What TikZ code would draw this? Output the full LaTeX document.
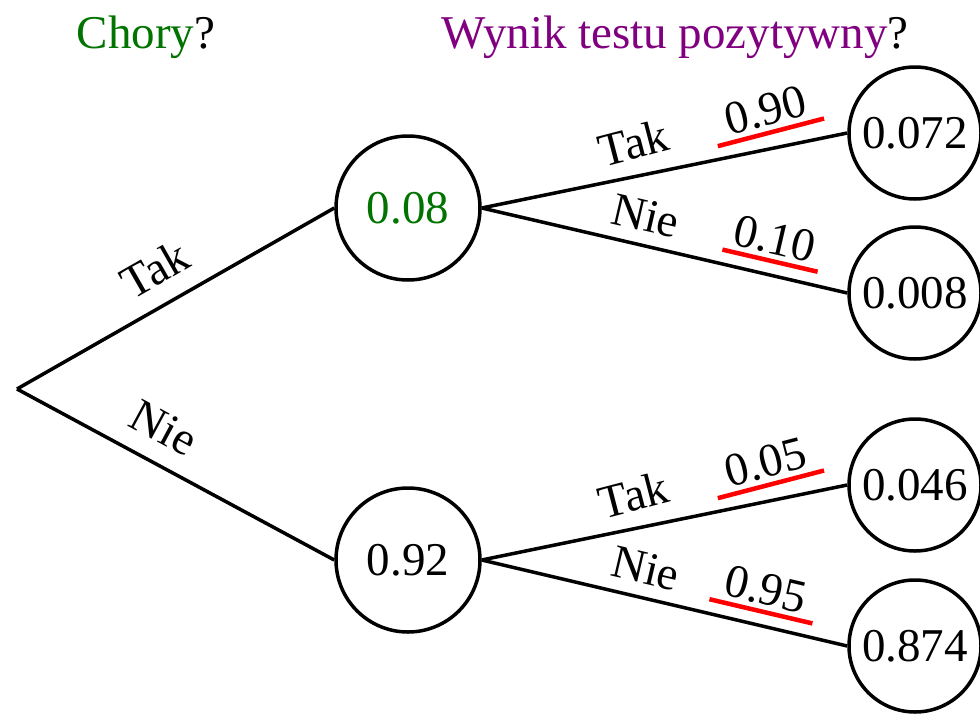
\documentclass[tikz,border=0pt]{standalone}
\usepackage{fontspec}
\setmainfont{Liberation Serif}
\definecolor{sickgreen}{RGB}{0,115,0}
\definecolor{testpurple}{RGB}{128,0,128}
\begin{document}
\begin{tikzpicture}[x=1pt,y=-1pt,
  every node/.style={font=\fontsize{47}{56}\selectfont},
  edge/.style={line width=3.5pt},
  midnode/.style={circle,draw,line width=3.5pt,minimum size=144pt,inner sep=0pt},
  leafnode/.style={circle,draw,line width=3.5pt,minimum size=132pt,inner sep=0pt},
  answer/.style={sloped,inner sep=0pt},
  prob/.style={sloped,inner ysep=5pt},
  uline/.style={red,line width=4.5pt}]
\useasboundingbox (0,0) rectangle (980,723);

% column headings
\node[anchor=base] (h1) at (146,48) {\textcolor{sickgreen}{Chory}?};
\node[anchor=base] (h2) at (675,48) {\textcolor{testpurple}{Wynik testu pozytywny}?};

% tree nodes
\coordinate (root) at (17,389);
\node[midnode,text=sickgreen] (m1) at (408,208) {0.08};
\node[midnode] (m2) at (408,560) {0.92};
\node[leafnode] (l1) at (915,133) {0.072};
\node[leafnode] (l2) at (915,293) {0.008};
\node[leafnode] (l3) at (915,485) {0.046};
\node[leafnode] (l4) at (915,646) {0.874};

% first level
\draw[edge] (root) -- node[answer,pos=0.49,above=18pt] (a1) {Tak} (m1.west);
\draw[edge] (root) -- node[answer,pos=0.41,above=18pt] (a2) {Nie} (m2.west);

% second level
\draw[edge] (m1.east) -- node[answer,pos=0.435,above=15pt,rotate=3] (b1) {Tak}
                         node[prob,pos=0.80,above=16pt,rotate=3,inner xsep=12pt] (p1) {0.90} (l1.west);
\draw[edge] (m1.east) -- node[answer,pos=0.43,above=12pt] (b2) {Nie}
                         node[prob,pos=0.78,above=14pt,inner xsep=6pt] (p2) {0.10} (l2.west);
\draw[edge] (m2.east) -- node[answer,pos=0.435,above=15pt,rotate=3] (b3) {Tak}
                         node[prob,pos=0.80,above=16pt,rotate=3,inner xsep=12pt] (p3) {0.05} (l3.west);
\draw[edge] (m2.east) -- node[answer,pos=0.43,above=12pt] (b4) {Nie}
                         node[prob,pos=0.755,above=14pt,inner xsep=10pt] (p4) {0.95} (l4.west);

% red underlines of the test probabilities
\foreach \p in {p1,p2,p3,p4}
  \draw[uline] (\p.south west) -- (\p.south east);
\end{tikzpicture}
\end{document}
